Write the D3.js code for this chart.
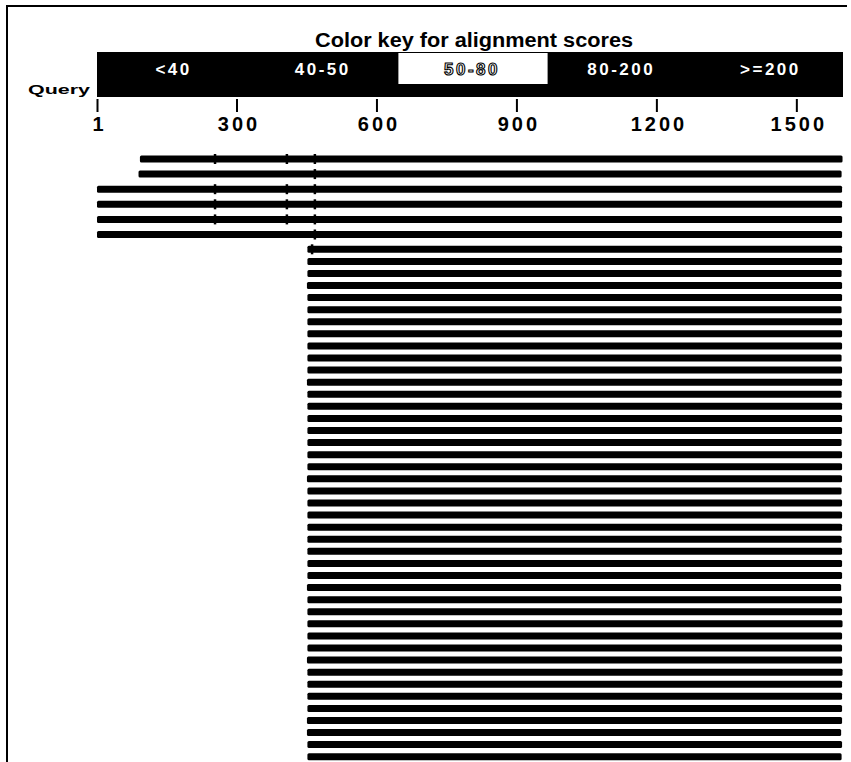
<!DOCTYPE html>
<html lang="en">
<head>
  <meta charset="UTF-8">
  <title>Color key for alignment scores</title>
  <script src="https://d3js.org/d3.v7.min.js"></script>
  <style>
    body {
      margin: 0;
      background: #fff;
    }

    svg {
      display: block;
      font-family: "Liberation Sans", Arial, Helvetica, sans-serif;
      font-weight: bold;
    }

    .title {
      font-size: 20px;
      fill: #000;
    }

    .key-label {
      font-size: 17px;
      fill: #fff;
      letter-spacing: 2.5px;
    }

    .key-label.hollow {
      stroke: #000;
      stroke-width: 1.1px;
    }

    .query-label {
      font-size: 12px;
    }

    .axis text {
      font-size: 20px;
      font-family: "Liberation Sans", Arial, sans-serif;
      font-weight: bold;
      letter-spacing: 3px;
      fill: #000;
    }

    .axis line {
      stroke: #000;
      stroke-width: 2px;
    }

    .hit {
      fill: #000;
    }

    .join {
      stroke: #000;
      stroke-width: 2.5px;
    }
  </style>
</head>
<body>
  <svg width="851" height="762"></svg>

  <script>
    // score classes of the colour key
    const scoreClasses = ["<40", "40-50", "50-80", "80-200", ">=200"];
    const highlighted = "50-80";

    // query ruler
    const queryLength = 1600;
    const tickValues = [1, 300, 600, 900, 1200, 1500];

    // hits: start / end on the query, one entry per row
    const hitStarts = [
      93, 90, 1, 1, 1, 1,
      452, 452, 452, 451, 452, 452, 452, 452, 452, 452,
      452, 451, 452, 452, 452, 452, 452, 452, 452, 451,
      452, 452, 452, 452, 452, 452, 452, 452, 451, 452,
      452, 452, 452, 452, 451, 452, 452, 452, 452, 451,
      451, 452, 452
    ];
    const hitEnds = [
      1599, 1597, 1598, 1598, 1598, 1598,
      1598, 1598, 1597, 1598, 1598, 1597, 1598, 1598, 1598, 1597,
      1598, 1598, 1597, 1598, 1598, 1598, 1597, 1598, 1598, 1598,
      1597, 1598, 1598, 1598, 1597, 1598, 1598, 1598, 1596, 1598,
      1598, 1599, 1598, 1598, 1598, 1599, 1598, 1598, 1598, 1598,
      1596, 1598, 1597
    ];
    // positions where HSP pieces meet (small vertical marks)
    const hitJoins = [
      [254, 408, 468], [468], [254, 408, 468], [254, 408, 468],
      [254, 408, 468], [468], [462]
    ];

    const svg = d3.select("svg");

    const x = d3.scaleLinear()
      .domain([1, queryLength])
      .range([97, 843]);

    // rows with joined pieces are spaced a bit wider than the rest
    const nRows = hitStarts.length;
    const y = d3.scaleLinear()
      .domain([0, 5, 6, nRows - 1])
      .range([159, 234.5, 249.3, 756.7]);

    const barH = 7;

    // frame
    svg.append("line")
      .attr("x1", 6).attr("x2", 847)
      .attr("y1", 6).attr("y2", 6)
      .attr("stroke", "#000").attr("stroke-width", 2);
    svg.append("line")
      .attr("x1", 7).attr("x2", 7)
      .attr("y1", 5).attr("y2", 762)
      .attr("stroke", "#000").attr("stroke-width", 2);

    // colour key
    svg.append("text")
      .attr("class", "title")
      .attr("x", 315)
      .attr("y", 47)
      .attr("textLength", 318)
      .attr("lengthAdjust", "spacingAndGlyphs")
      .text("Color key for alignment scores");

    const band = d3.scaleBand()
      .domain(scoreClasses)
      .range(x.range());

    svg.append("rect")
      .attr("x", band.range()[0])
      .attr("y", 52)
      .attr("width", band.range()[1] - band.range()[0])
      .attr("height", 45)
      .attr("fill", "#000");

    svg.append("rect")
      .attr("x", band(highlighted) + 3)
      .attr("y", 53)
      .attr("width", band.bandwidth())
      .attr("height", 31)
      .attr("fill", "#fff");

    svg.append("g")
      .selectAll("text")
      .data(scoreClasses)
      .join("text")
      .attr("class", d => d === highlighted ? "key-label hollow" : "key-label")
      .attr("x", d => band(d) + band.bandwidth() / 2 + 2)
      .attr("y", 75)
      .attr("text-anchor", "middle")
      .text(d => d);

    svg.append("text")
      .attr("class", "query-label")
      .attr("x", 28)
      .attr("y", 94)
      .attr("textLength", 62)
      .attr("lengthAdjust", "spacingAndGlyphs")
      .text("Query");

    // ruler
    const axis = d3.axisBottom(x)
      .tickValues(tickValues)
      .tickFormat(d3.format("d"))
      .tickSize(13)
      .tickPadding(5);

    const axisG = svg.append("g")
      .attr("class", "axis")
      .attr("transform", "translate(0,99)")
      .call(axis);
    axisG.select(".domain").remove();
    axisG.selectAll("text")
      .attr("dx", 2)
      .attr("fill", "#000");

    // hits
    const rows = d3.range(nRows).map(i => ({
      i: i,
      start: hitStarts[i],
      end: hitEnds[i],
      joins: hitJoins[i] || []
    }));

    svg.append("g")
      .selectAll("rect")
      .data(rows)
      .join("rect")
      .attr("class", "hit")
      .attr("x", d => x(d.start))
      .attr("y", d => y(d.i) - barH / 2)
      .attr("width", d => x(d.end) - x(d.start))
      .attr("height", barH)
      .attr("rx", 1.5);

    svg.append("g")
      .selectAll("line")
      .data(rows.flatMap(r => r.joins.map(j => ({ i: r.i, pos: j }))))
      .join("line")
      .attr("class", "join")
      .attr("x1", d => x(d.pos)).attr("x2", d => x(d.pos))
      .attr("y1", d => y(d.i) - 5)
      .attr("y2", d => y(d.i) + 5);
  </script>
</body>
</html>
